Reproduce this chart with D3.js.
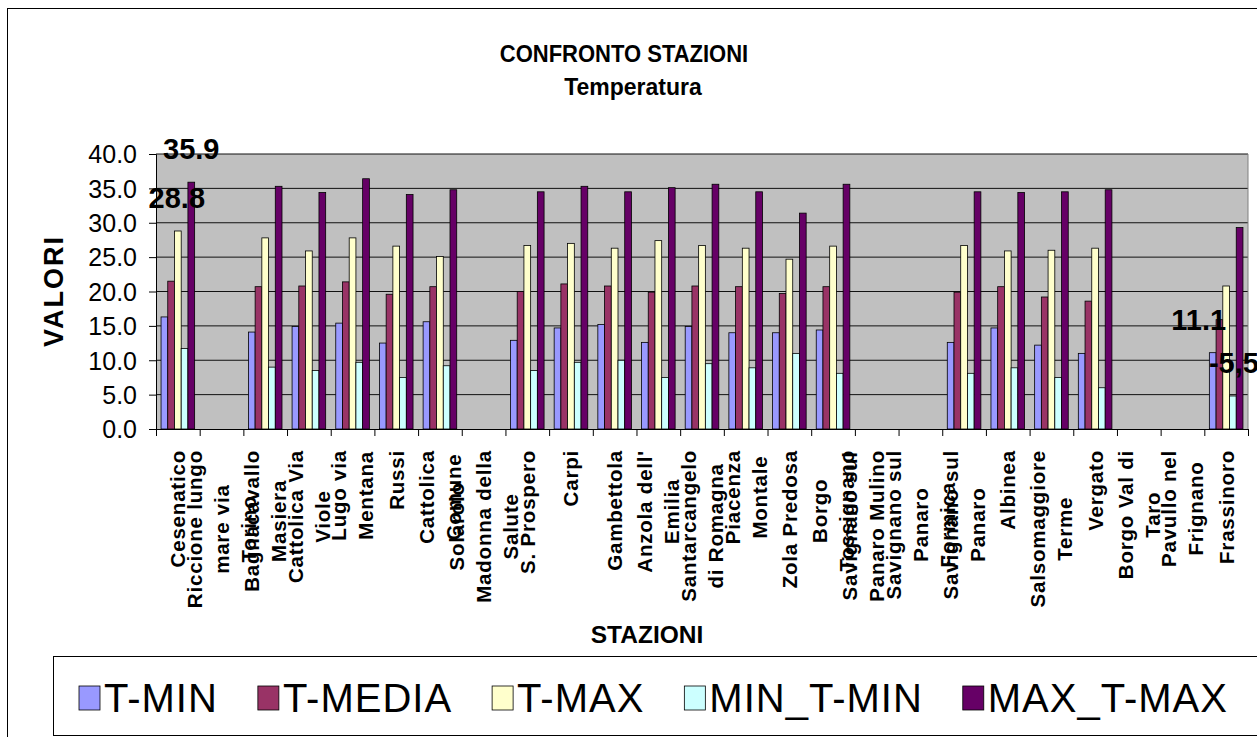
<!DOCTYPE html>
<html><head><meta charset="utf-8">
<script src="https://cdn.jsdelivr.net/npm/d3@7/dist/d3.min.js"></script>
<style>
body{margin:0;background:#fff;overflow:hidden}
svg{display:block;font-family:"Liberation Sans",Arial,sans-serif}
</style>
</head><body>
<svg id="c" width="1257" height="737"></svg>
<script>
// ---------- DATA ----------
const categories = [
  "Cesenatico",
  "Riccione lungo\nmare via\nTorino",
  "Bagnacavallo\nMasiera",
  "Cattolica Via\nViole",
  "Lugo via\nMentana",
  "Russi",
  "Cattolica\nComune",
  "Solarolo\nMadonna della\nSalute",
  "S. Prospero",
  "Carpi",
  "Gambettola",
  "Anzola dell'\nEmilia",
  "Santarcangelo\ndi Romagna",
  "Piacenza\nMontale",
  "Zola Predosa",
  "Borgo\nTossignano",
  "Savignano sul\nPanaro Mulino\n",
  "Savignano sul\nPanaro\nFormica",
  "Savignano sul\nPanaro",
  "Albinea",
  "Salsomaggiore\nTerme",
  "Vergato",
  "Borgo Val di\nTaro",
  "Pavullo nel\nFrignano",
  "Frassinoro"
];
const seriesNames = ["T-MIN", "T-MEDIA", "T-MAX", "MIN_T-MIN", "MAX_T-MAX"];
const tMin    = [16.3,null,14.1,14.9,15.4,12.5,15.6,null,12.9,14.7,15.2,12.6,14.9,14.0,14.0,14.4,null,null,12.6,14.7,12.2,11.0,null,null,11.1];
const tMedia  = [21.5,null,20.7,20.8,21.4,19.6,20.7,null,20.0,21.1,20.8,19.9,20.8,20.7,19.7,20.7,null,null,19.9,20.7,19.2,18.6,null,null,15.9];
const tMax    = [28.8,null,27.8,25.9,27.8,26.6,25.1,null,26.7,27.0,26.3,27.4,26.7,26.3,24.7,26.6,null,null,26.7,25.9,26.0,26.3,null,null,20.8];
const minTMin = [11.7,null,9.0,8.5,9.7,7.5,9.2,null,8.5,9.7,10.0,7.5,9.5,8.9,11.0,8.1,null,null,8.1,8.9,7.5,6.0,null,null,4.8];
const maxTMax = [35.9,null,35.3,34.4,36.4,34.1,34.8,null,34.5,35.3,34.5,35.1,35.6,34.5,31.4,35.6,null,null,34.5,34.4,34.5,34.8,null,null,29.3];
const yTicks  = [0,5,10,15,20,25,30,35,40];
// data labels shown on the chart
const labelCat    = [0, 0, 24, 24];
const labelSeries = [4, 2, 0, 3];
const labelText   = ["35.9", "28.8", "11.1", "-5,5"];

// ---------- STYLE / LAYOUT ----------
const colors = ["#9999FF", "#993366", "#FFFFCC", "#CCFFFF", "#660066"];
const labelDx = [0, -1, -14, 1];
const W = 1257, H = 737;
const plot = {left: 156, right: 1248, top: 154, bottom: 429};
const svg = d3.select("#c");

svg.append("rect").attr("width", W).attr("height", H).attr("fill", "#fff");
// chart area border
svg.append("rect").attr("x", 7.5).attr("y", 8.5).attr("width", 1300).attr("height", 800)
  .attr("fill", "none").attr("stroke", "#000").attr("stroke-width", 1);

const series = [tMin, tMedia, tMax, minTMin, maxTMax];

const x = d3.scaleBand().domain(d3.range(categories.length)).range([plot.left, plot.right]).padding(0);
const bw = x.bandwidth();
const barW = bw / 6.5;
const x1 = d3.scaleBand().domain(d3.range(series.length)).range([0.75 * barW, bw - 0.75 * barW]).padding(0);
const y = d3.scaleLinear().domain([0, 40]).range([plot.bottom, plot.top]);
const xEdge = d3.scaleLinear().domain([0, categories.length]).range([plot.left, plot.right]);

// plot background
svg.append("rect").attr("x", plot.left).attr("y", plot.top)
  .attr("width", plot.right - plot.left).attr("height", plot.bottom - plot.top)
  .attr("fill", "#C0C0C0");

// gridlines
svg.append("g").selectAll("line").data(yTicks.filter(d => d > 0)).join("line")
  .attr("x1", plot.left).attr("x2", plot.right)
  .attr("y1", d => y(d)).attr("y2", d => y(d))
  .attr("stroke", "#111").attr("stroke-width", 1);

// plot border (right side)
svg.append("line").attr("x1", plot.right).attr("x2", plot.right).attr("y1", plot.top).attr("y2", plot.bottom)
  .attr("stroke", "#808080");

// bars
const gBars = svg.append("g");
series.forEach((vals, si) => {
  gBars.append("g").selectAll("rect")
    .data(vals.map((v, i) => ({v, i})).filter(d => d.v != null))
    .join("rect")
    .attr("x", d => x(d.i) + x1(si))
    .attr("width", x1.bandwidth())
    .attr("y", d => y(d.v))
    .attr("height", d => y(0) - y(d.v))
    .attr("fill", colors[si])
    .attr("stroke", "#000").attr("stroke-width", 0.8);
});

// y axis
const yAxis = svg.append("g").attr("transform", `translate(${plot.left},0)`)
  .call(d3.axisLeft(y).tickValues(yTicks).tickFormat(d3.format(".1f")).tickSize(7).tickPadding(12));
yAxis.select(".domain").attr("stroke", "#000");
yAxis.selectAll("line").attr("stroke", "#000");
yAxis.selectAll("text").attr("font-size", 25).attr("font-family", '"Liberation Sans",Arial,sans-serif')
  .attr("fill", "#000").attr("dy", "0.35em");

// x axis
const xAxis = svg.append("g").attr("transform", `translate(0,${plot.bottom})`)
  .call(d3.axisBottom(xEdge).tickValues(d3.range(categories.length + 1)).tickFormat("").tickSize(7));
xAxis.select(".domain").attr("stroke", "#000");
xAxis.selectAll("line").attr("stroke", "#000");

// category labels (rotated, wrapped, block top anchored at y=450)
const lineGap = 27;
const gLab = svg.append("g").attr("font-size", 20.5).attr("font-weight", "bold").attr("letter-spacing", 0.8);
categories.forEach((c, i) => {
  const lines = c.split("\n");
  const g = gLab.append("g").attr("transform", `translate(${x(i) + bw / 2},450) rotate(-90)`);
  const texts = lines.map((ln, k) => g.append("text")
    .attr("text-anchor", "middle")
    .attr("y", (k - (lines.length - 1) / 2) * lineGap)
    .attr("dy", "0.36em")
    .text(ln));
  const maxW = d3.max(texts, t => t.node().getComputedTextLength());
  texts.forEach(t => t.attr("x", -maxW / 2));
});

// data labels
svg.append("g").selectAll("text").data(labelText).join("text")
  .attr("x", (d, k) => x(labelCat[k]) + x1(labelSeries[k]) + x1.bandwidth() / 2 + labelDx[k])
  .attr("y", (d, k) => y(series[labelSeries[k]][labelCat[k]]) - 23)
  .attr("text-anchor", "middle")
  .attr("font-size", 29).attr("font-weight", "bold")
  .text(d => d);

// titles
svg.append("text").attr("transform", "translate(624,62) scale(1,1.1)").attr("text-anchor", "middle")
  .attr("font-size", 22).attr("font-weight", "bold").text("CONFRONTO STAZIONI");
svg.append("text").attr("transform", "translate(633,95) scale(1,1.08)").attr("text-anchor", "middle")
  .attr("font-size", 23).attr("font-weight", "bold").text("Temperatura");
svg.append("text").attr("x", 647).attr("y", 643).attr("text-anchor", "middle")
  .attr("font-size", 24.5).attr("font-weight", "bold").text("STAZIONI");
svg.append("text").attr("transform", "translate(63,291) rotate(-90)").attr("text-anchor", "middle")
  .attr("font-size", 27).attr("font-weight", "bold").attr("letter-spacing", 2).text("VALORI");

// legend
svg.append("rect").attr("x", 53.5).attr("y", 656.5).attr("width", 1300).attr("height", 79)
  .attr("fill", "#fff").attr("stroke", "#000");
const gLeg = svg.append("g").attr("font-size", 40).attr("letter-spacing", 1);
let lx = 79;
seriesNames.forEach((name, si) => {
  gLeg.append("rect").attr("x", lx).attr("y", 686).attr("width", 21).attr("height", 24)
    .attr("fill", colors[si]).attr("stroke", "#000").attr("stroke-width", 0.8);
  const t = gLeg.append("text").attr("x", lx + 25).attr("y", 712).text(name);
  lx += 25 + t.node().getComputedTextLength() + 40;
});
</script>
</body></html>
